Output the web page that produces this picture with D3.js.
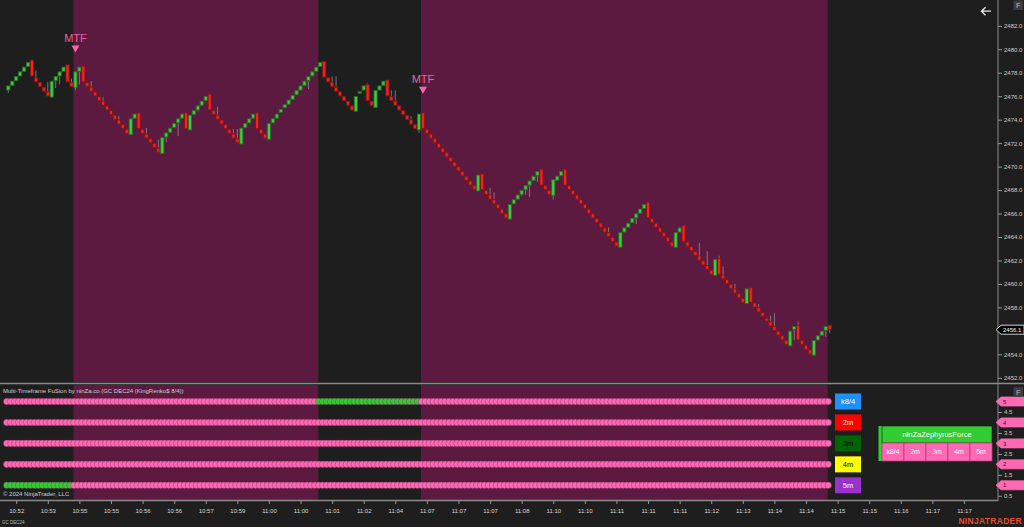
<!DOCTYPE html>
<html>
<head>
<meta charset="utf-8">
<script src="https://cdn.jsdelivr.net/npm/d3@7"></script>
<style>
body{margin:0;background:#1e1e1e;overflow:hidden}
svg{display:block;font-family:"Liberation Sans",Arial,sans-serif}
</style>
</head>
<body>
<svg id="chart" width="1024" height="527"></svg>
<script>
// renko bricks (GC DEC24, KingRenko 8/4)
var opens = [
2476.5,2476.9,2477.3,2477.7,2478.1,2478.5,2479.1,2477.6,2477.2,2476.8,
2476.4,2475.9,2477.3,2477.7,2478.1,2478.7,2477.2,2476.7,2478.1,2478.6,
2477.2,2476.8,2476.4,2476.0,2475.6,2475.2,2474.8,2474.4,2474.0,2473.6,
2473.2,2472.7,2474.1,2474.6,2473.2,2472.8,2472.4,2472.0,2471.6,2471.1,
2472.5,2472.9,2473.3,2473.7,2474.1,2474.6,2473.1,2474.4,2474.8,2475.2,
2475.6,2476.2,2474.8,2474.4,2474.0,2473.6,2473.2,2472.8,2472.4,2471.9,
2473.3,2473.7,2474.1,2474.6,2473.2,2472.8,2472.3,2473.7,2474.1,2474.6,
2475.0,2475.3,2475.7,2476.1,2476.5,2476.9,2477.3,2477.7,2478.1,2478.5,
2479.0,2477.6,2477.2,2476.8,2476.4,2476.0,2475.6,2475.2,2474.7,2476.3,
2476.5,2477.0,2475.6,2475.0,2476.5,2476.9,2477.4,2476.0,2475.6,2475.2,
2474.8,2474.4,2474.0,2473.6,2473.1,2474.6,2473.2,2472.8,2472.4,2472.0,
2471.6,2471.2,2470.8,2470.4,2470.0,2469.6,2469.2,2468.8,2468.4,2467.9,
2469.4,2468.0,2467.6,2467.2,2466.8,2466.4,2466.0,2465.5,2466.8,2467.2,
2467.6,2468.0,2468.4,2468.8,2469.2,2469.8,2468.4,2468.0,2467.5,2468.8,
2469.2,2469.8,2468.4,2468.0,2467.6,2467.2,2466.8,2466.4,2466.0,2465.6,
2465.2,2464.8,2464.4,2464.0,2463.6,2463.1,2464.4,2464.8,2465.2,2465.6,
2466.0,2466.4,2467.0,2465.6,2465.2,2464.8,2464.4,2464.0,2463.6,2463.1,
2464.4,2465.0,2463.6,2463.2,2462.8,2462.4,2462.0,2461.6,2461.2,2460.7,
2462.2,2460.8,2460.4,2460.0,2459.6,2459.2,2458.8,2458.3,2459.7,2458.4,
2458.0,2457.6,2457.1,2456.8,2456.4,2456.0,2455.6,2455.2,2454.7,2456.1,
2456.5,2455.2,2454.8,2454.4,2453.9,2455.2,2455.6,2456.0,2456.5];
var closes = [
2476.9,2477.3,2477.7,2478.1,2478.5,2478.9,2477.7,2477.2,2476.8,2476.4,
2476.0,2477.3,2477.7,2478.1,2478.5,2477.2,2476.8,2478.1,2478.5,2477.2,
2476.8,2476.4,2476.0,2475.6,2475.2,2474.8,2474.4,2474.0,2473.6,2473.2,
2472.8,2474.1,2474.5,2473.2,2472.8,2472.4,2472.0,2471.6,2471.2,2472.5,
2472.9,2473.3,2473.7,2474.1,2474.5,2473.2,2474.4,2474.8,2475.2,2475.6,
2476.0,2474.8,2474.4,2474.0,2473.6,2473.2,2472.8,2472.4,2472.0,2473.3,
2473.7,2474.1,2474.5,2473.2,2472.8,2472.4,2473.7,2474.1,2474.5,2474.9,
2475.3,2475.7,2476.1,2476.5,2476.9,2477.3,2477.7,2478.1,2478.5,2478.9,
2477.6,2477.2,2476.8,2476.4,2476.0,2475.6,2475.2,2474.8,2476.0,2476.4,
2476.9,2475.6,2475.2,2476.5,2476.9,2477.3,2476.0,2475.6,2475.2,2474.8,
2474.4,2474.0,2473.6,2473.2,2474.5,2473.2,2472.8,2472.4,2472.0,2471.6,
2471.2,2470.8,2470.4,2470.0,2469.6,2469.2,2468.8,2468.4,2468.0,2469.3,
2468.0,2467.6,2467.2,2466.8,2466.4,2466.0,2465.6,2466.8,2467.2,2467.6,
2468.0,2468.4,2468.8,2469.2,2469.6,2468.4,2468.0,2467.6,2468.9,2469.2,
2469.6,2468.4,2468.0,2467.6,2467.2,2466.8,2466.4,2466.0,2465.6,2465.2,
2464.8,2464.4,2464.0,2463.6,2463.2,2464.4,2464.8,2465.2,2465.6,2466.0,
2466.4,2466.8,2465.6,2465.2,2464.8,2464.4,2464.0,2463.6,2463.2,2464.4,
2464.8,2463.6,2463.2,2462.8,2462.4,2462.0,2461.6,2461.2,2460.8,2462.1,
2460.8,2460.4,2460.0,2459.6,2459.2,2458.8,2458.4,2459.6,2458.4,2458.0,
2457.6,2457.2,2456.8,2456.4,2456.0,2455.6,2455.2,2454.8,2456.0,2456.4,
2455.2,2454.8,2454.4,2454.0,2455.2,2455.6,2456.0,2456.4,2456.1];
// wicks that stick out of a brick: bar index and wick end price
var wickIdx = [0,7,10,12,13,16,17,18,21,24,28,35,38,40,43,48,53,57,58,76,
  82,83,91,97,98,102,104,122,123,130,131,132,134,138,152,159,175,177,180,181,
  184,190,193,194,199,200,207,208];
var wickEnd = [2476.3,2478.2,2477.2,2476.7,2477.0,2477.5,2476.5,2477.0,2477.3,2475.9,
  2474.3,2473.3,2472.3,2472.1,2472.6,2474.7,2475.1,2473.2,2473.2,2476.6,
  2477.7,2477.7,2477.1,2476.5,2476.5,2474.3,2472.9,2468.2,2467.8,2467.5,
  2467.6,2467.4,2468.7,2467.2,2464.8,2465.1,2463.5,2462.8,2462.4,2461.5,
  2460.0,2458.3,2457.3,2457.5,2455.2,2456.8,2455.5,2455.8];

var timeLabels = ["10:52","10:53","10:55","10:55","10:56","10:56","10:57","10:59","11:00","11:00",
  "11:01","11:02","11:04","11:07","11:07","11:07","11:08","11:10","11:10","11:11",
  "11:11","11:11","11:12","11:13","11:14","11:14","11:15","11:15","11:16","11:17","11:17"];

// MTF signals and the shaded (bearish) zones, in bar index
var mtfIdx = [17, 105];
var shadeFrom = [16.5, 104.5];
var shadeTo = [78.5, 207.5];

// lower panel rows
var rowNames = ["k8/4", "2m", "3m", "4m", "5m"];
var rowValues = [5, 4, 3, 2, 1];
var rowGreenFrom = [79, -1, -1, -1, 0];
var rowGreenTo = [104, -1, -1, -1, 16];
var legendFill = ["#1e90ff", "#ff0000", "#006400", "#ffff00", "#9932cc"];
var legendText = ["#ffffff", "#ffffff", "#000000", "#000000", "#ffffff"];

var W = 1024, H = 527, axisX = 998;
var svg = d3.select("#chart");
var pink = "#ff69b4", green = "#32cd32", maroon = "#5c1a40", dark = "#1e1e1e";
var lastClose = closes[closes.length - 1];

var x = d3.scaleLinear().domain([0, 208]).range([8.3, 829.7]);
var y = d3.scaleLinear().domain([2452, 2482]).range([377.8, 25.8]);
var yl = d3.scaleLinear().domain([1, 5]).range([485.3, 401.5]);

svg.append("rect").attr("width", W).attr("height", H).attr("fill", dark);

// shaded zones in both panels
shadeFrom.forEach(function(f, i) {
  svg.append("rect").attr("x", x(f)).attr("y", 0)
    .attr("width", x(shadeTo[i]) - x(f)).attr("height", 382).attr("fill", maroon);
  svg.append("rect").attr("x", x(f)).attr("y", 385)
    .attr("width", x(shadeTo[i]) - x(f)).attr("height", 115).attr("fill", maroon);
});

// wicks
var wg = svg.append("g");
wickIdx.forEach(function(b, k) {
  var o = opens[b], c = closes[b], e = wickEnd[k];
  var from = e > Math.max(o, c) ? Math.max(o, c) : Math.min(o, c);
  wg.append("line").attr("x1", x(b)).attr("x2", x(b))
    .attr("y1", y(from)).attr("y2", y(e))
    .attr("stroke", "#9a9a9a").attr("stroke-opacity", 0.7).attr("stroke-width", 1);
});

// bricks
svg.append("g").selectAll("rect").data(opens).enter().append("rect")
  .attr("x", function(d, i) { return x(i) - 1.6; })
  .attr("width", 3.2)
  .attr("y", function(d, i) { return y(Math.max(d, closes[i])) + 0.3; })
  .attr("height", function(d, i) { return Math.max(1.5, Math.abs(y(d) - y(closes[i])) - 0.6); })
  .attr("fill", function(d, i) { return closes[i] >= d ? "#3ad03a" : "#ff1c1c"; })
  .attr("stroke", function(d, i) { return closes[i] >= d ? "#2a6e2a" : "#7a1a1a"; })
  .attr("stroke-width", 0.9);

// MTF markers
mtfIdx.forEach(function(b) {
  var top = y(Math.max(opens[b], closes[b])) - 19;
  svg.append("path")
    .attr("d", "M" + (x(b) - 4) + "," + (top - 7) + "L" + (x(b) + 4) + "," + (top - 7) + "L" + x(b) + "," + top + "Z")
    .attr("fill", "#f564ae");
  svg.append("text").attr("x", x(b)).attr("y", top - 11)
    .attr("text-anchor", "middle").attr("font-size", 11).attr("fill", "#e861a6").text("MTF");
});

// panel divider and axis lines
svg.append("line").attr("x1", 0).attr("x2", W).attr("y1", 383.5).attr("y2", 383.5)
  .attr("stroke", "#8a8a8a").attr("stroke-width", 1.5);
svg.append("line").attr("x1", 0).attr("x2", axisX).attr("y1", 500.5).attr("y2", 500.5)
  .attr("stroke", "#8a8a8a").attr("stroke-width", 1.5);
svg.append("line").attr("x1", axisX).attr("x2", axisX).attr("y1", 0).attr("y2", 501)
  .attr("stroke", "#8a8a8a").attr("stroke-width", 1);

// price axis (the label under the last-price tag is hidden, as on the platform)
var pa = svg.append("g").attr("transform", "translate(" + axisX + ",0)")
  .call(d3.axisRight(y).tickValues(d3.range(2452, 2483, 2)).tickFormat(d3.format(".1f")).tickSize(4).tickPadding(2));
pa.select(".domain").remove();
pa.selectAll("line").attr("stroke", "#9a9a9a");
pa.selectAll("text").attr("fill", "#cfcfcf").attr("font-size", 6).attr("font-family", "Liberation Sans, Arial, sans-serif")
  .style("display", function(d) { return Math.abs(y(d) - y(lastClose)) < 7 ? "none" : null; });

// lower panel axis
var la = svg.append("g").attr("transform", "translate(" + axisX + ",0)")
  .call(d3.axisRight(yl).tickValues([0.5, 1.5, 2.5, 3.5, 4.5]).tickFormat(d3.format("")).tickSize(4).tickPadding(2));
la.select(".domain").remove();
la.selectAll("line").attr("stroke", "#9a9a9a");
la.selectAll("text").attr("fill", "#cfcfcf").attr("font-size", 6).attr("font-family", "Liberation Sans, Arial, sans-serif");

function tag(yy, fill, stroke, txt, txtFill) {
  svg.append("path")
    .attr("d", "M" + (axisX - 2) + "," + yy + "L" + (axisX + 3) + "," + (yy - 4.5) + "L1024," + (yy - 4.5) + "L1024," + (yy + 4.5) + "L" + (axisX + 3) + "," + (yy + 4.5) + "Z")
    .attr("fill", fill).attr("stroke", stroke).attr("stroke-width", 0.8);
  svg.append("text").attr("x", axisX + 5).attr("y", yy).attr("dy", "0.35em")
    .attr("font-size", 6).attr("fill", txtFill).text(txt);
}
rowValues.forEach(function(v) { tag(yl(v), pink, pink, v, "#3a1020"); });
tag(y(lastClose), "#000", "#ffffff", d3.format(".1f")(lastClose), "#ffffff");

// time axis
var ta = svg.append("g").attr("transform", "translate(0,501)")
  .call(d3.axisBottom(x).tickValues(d3.range(2, 243, 8)).tickFormat(function(d, i) { return timeLabels[i]; }).tickSize(3).tickPadding(5));
ta.select(".domain").remove();
ta.selectAll("line").attr("stroke", "#9a9a9a");
ta.selectAll("text").attr("fill", "#d8d8d8").attr("font-size", 6).attr("font-family", "Liberation Sans, Arial, sans-serif");

// lower panel dot rows
var bars = d3.range(opens.length);
rowValues.forEach(function(v, r) {
  svg.append("g").selectAll("circle").data(bars).enter().append("circle")
    .attr("cx", function(b) { return x(b) - 1.5; })
    .attr("cy", yl(v))
    .attr("r", 3.3)
    .attr("fill", function(b) { return (b >= rowGreenFrom[r] && b <= rowGreenTo[r]) ? green : pink; })
    .attr("stroke", "#7a2a55").attr("stroke-width", 0.4);
});

// legend boxes
rowNames.forEach(function(n, r) {
  var yy = yl(rowValues[r]);
  svg.append("rect").attr("x", 835).attr("y", yy - 8).attr("width", 26).attr("height", 16)
    .attr("fill", legendFill[r]);
  svg.append("text").attr("x", 848).attr("y", yy).attr("dy", "0.35em").attr("text-anchor", "middle")
    .attr("font-size", 7.5).attr("fill", legendText[r]).text(n);
});

// ninZaZephyrusForce box
var bx = 882, by = 426, bw = 110;
svg.append("rect").attr("x", 878.5).attr("y", by).attr("width", 3.5).attr("height", 35).attr("fill", green);
svg.append("rect").attr("x", bx).attr("y", by).attr("width", bw).attr("height", 17).attr("fill", green)
  .attr("stroke", "#111").attr("stroke-width", 0.6);
svg.append("text").attr("x", bx + bw / 2).attr("y", by + 8.5).attr("dy", "0.35em").attr("text-anchor", "middle")
  .attr("font-size", 7.5).attr("fill", "#ffffff").text("ninZaZephyrusForce");
rowNames.forEach(function(n, i) {
  var cw = bw / rowNames.length;
  svg.append("rect").attr("x", bx + i * cw).attr("y", by + 17).attr("width", cw).attr("height", 18)
    .attr("fill", pink).attr("stroke", "#b03c78").attr("stroke-width", 0.8);
  svg.append("text").attr("x", bx + i * cw + cw / 2).attr("y", by + 26).attr("dy", "0.35em").attr("text-anchor", "middle")
    .attr("font-size", 7).attr("fill", "#ffffff").text(n);
});

// texts
svg.append("text").attr("x", 3).attr("y", 390.5).attr("dy", "0.35em").attr("font-size", 6)
  .attr("fill", "#d0d0d0").text("Multi-Timeframe FuSion by ninZa.co (GC DEC24 (KingRenko$ 8/4))");
svg.append("text").attr("x", 3).attr("y", 494).attr("dy", "0.35em").attr("font-size", 6)
  .attr("fill", "#d0d0d0").text("\u00a9 2024 NinjaTrader, LLC");
svg.append("text").attr("x", 2).attr("y", 522).attr("dy", "0.35em").attr("font-size", 4.5)
  .attr("fill", "#bbbbbb").text("GC DEC24");
svg.append("text").attr("x", 1022).attr("y", 521).attr("dy", "0.35em").attr("text-anchor", "end")
  .attr("font-size", 8.5).attr("font-weight", "bold").attr("letter-spacing", 0.3)
  .attr("fill", "#e4502c").text("NINJATRADER");

// top-right controls: back arrow and "F" buttons
svg.append("path").attr("d", "M991,11.2H981.5M985.5,7.2L981.5,11.2L985.5,15.2")
  .attr("fill", "none").attr("stroke", "#eeeeee").attr("stroke-width", 1.3);
[0.5, 387].forEach(function(t) {
  svg.append("rect").attr("x", 1013.5).attr("y", t).attr("width", 9.5).attr("height", 9.5).attr("fill", "#3c3c3c");
  svg.append("text").attr("x", 1018.3).attr("y", t + 5).attr("dy", "0.35em").attr("text-anchor", "middle")
    .attr("font-size", 7.5).attr("fill", "#bdbdbd").text("F");
});
</script>
</body>
</html>
